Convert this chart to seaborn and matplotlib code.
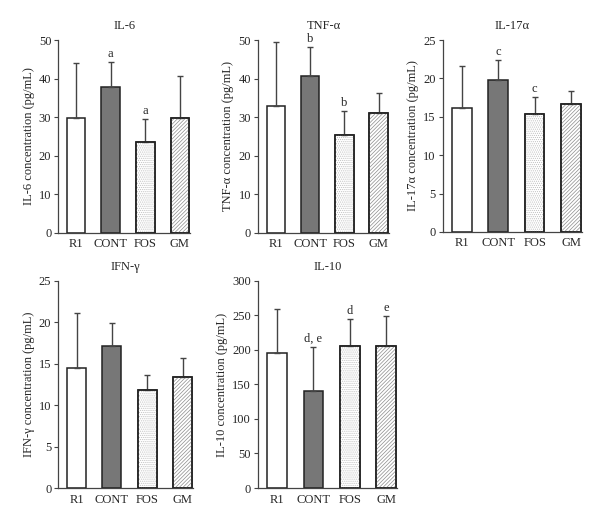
import numpy as np
import pandas as pd
import matplotlib
matplotlib.use("Agg")
import matplotlib.pyplot as plt
import seaborn as sns
from matplotlib.patches import Rectangle

# groups and values (mean, upper SD)
groups = ["R1", "CONT", "FOS", "GM"]

il6_mean = [29.9, 37.9, 23.7, 29.8]
il6_err = [14.2, 6.4, 5.9, 10.9]
il6_sig = ["", "a", "a", ""]

tnf_mean = [33.0, 40.7, 25.4, 31.0]
tnf_err = [16.5, 7.6, 6.3, 5.2]
tnf_sig = ["", "b", "b", ""]

il17_mean = [16.1, 19.8, 15.3, 16.7]
il17_err = [5.5, 2.6, 2.3, 1.7]
il17_sig = ["", "c", "c", ""]

ifn_mean = [14.5, 17.2, 11.8, 13.4]
ifn_err = [6.6, 2.7, 1.9, 2.3]
ifn_sig = ["", "", "", ""]

il10_mean = [196, 141, 206, 205]
il10_err = [64, 63, 39, 44]
il10_sig = ["", "d, e", "d", "e"]

face = ["white", "#777777", "white", "white"]
hatches = [None, None, "........", "/////////"]
hatch_col = [None, None, "#bdbdbd", "#8c8c8c"]

sns.set_style("ticks")
plt.rcParams["font.family"] = ["Liberation Serif", "DejaVu Serif"]
plt.rcParams["hatch.linewidth"] = 0.5

fig = plt.figure(figsize=(6, 5.27), dpi=100)
fs = 9

panels = [
    # title, ylabel, mean, err, sig, ymax, ystep, rect
    ("IL-6", "IL-6 concentration (pg/mL)", il6_mean, il6_err, il6_sig, 50, 10,
     [0.097, 0.558, 0.220, 0.366]),
    ("TNF-α", "TNF-α concentration (pg/mL)", tnf_mean, tnf_err, tnf_sig, 50, 10,
     [0.430, 0.558, 0.218, 0.366]),
    ("IL-17α", "IL-17α concentration (pg/mL)", il17_mean, il17_err, il17_sig, 25, 5,
     [0.738, 0.560, 0.232, 0.364]),
    ("IFN-γ", "IFN-γ concentration (pg/mL)", ifn_mean, ifn_err, ifn_sig, 25, 5,
     [0.097, 0.074, 0.225, 0.393]),
    ("IL-10", "IL-10 concentration (pg/mL)", il10_mean, il10_err, il10_sig, 300, 50,
     [0.430, 0.074, 0.232, 0.393]),
]

for title, ylab, mean, err, sig, ymax, ystep, rect in panels:
    ax = fig.add_axes(rect)
    df = pd.DataFrame({"group": groups, "value": mean})
    sns.barplot(data=df, x="group", y="value", hue="group", palette=face,
                legend=False, width=0.54, edgecolor="#222222", linewidth=1.1,
                errorbar=None, ax=ax)
    # upper error bars only
    ax.errorbar(range(len(groups)), mean, yerr=[np.zeros(len(err)), err],
                fmt="none", ecolor="#444444", elinewidth=1.0, capsize=2.2,
                capthick=1.0, zorder=1)
    # hatch overlays
    for i, p in enumerate(ax.patches[:len(groups)]):
        if hatches[i]:
            ax.add_patch(Rectangle(p.get_xy(), p.get_width(), p.get_height(),
                                   fill=False, hatch=hatches[i],
                                   edgecolor=hatch_col[i], linewidth=0, zorder=3))
            ax.add_patch(Rectangle(p.get_xy(), p.get_width(), p.get_height(),
                                   fill=False, edgecolor="#222222",
                                   linewidth=1.1, zorder=4))
    for i, s in enumerate(sig):
        if s:
            ax.annotate(s, (i, mean[i] + err[i]), xytext=(0, 1.5),
                        textcoords="offset points", ha="center", va="bottom",
                        fontsize=fs)
    ax.set_xlim(-0.52, 3.3)
    ax.set_ylim(0, ymax)
    ax.set_yticks(np.arange(0, ymax + ystep, ystep))
    ax.set_xlabel("")
    ax.set_ylabel(ylab, fontsize=fs, labelpad=3)
    ax.set_title(title, fontsize=fs, pad=8)
    ax.tick_params(axis="x", length=0, labelsize=fs, pad=4)
    ax.tick_params(axis="y", length=3, width=0.8, labelsize=fs, pad=2,
                   color="#444444")
    sns.despine(ax=ax)
    for sp in ["left", "bottom"]:
        ax.spines[sp].set_color("#444444")
        ax.spines[sp].set_linewidth(0.9)

fig.savefig("out.png", dpi=100)
